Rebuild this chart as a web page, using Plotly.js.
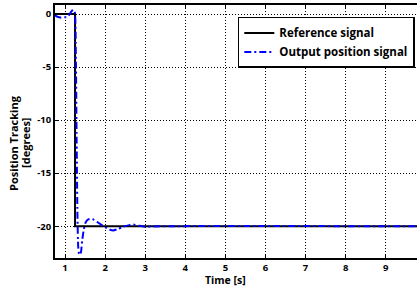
<!DOCTYPE html>
<html>
<head>
<meta charset="utf-8">
<script src="https://cdn.plot.ly/plotly-3.0.1.min.js"></script>
<style>html,body{margin:0;padding:0;background:#fff;}#chart{width:417px;height:288px;}</style>
</head>
<body>
<div id="chart"></div>
<script>
// Reference signal (step)
const refTime = [0.75, 1.25, 1.25, 10];
const refValue = [0, 0, -20, -20];

// Output position signal
const outTime = [0.75, 0.8, 0.85, 0.9, 0.95, 1.0, 1.05, 1.1, 1.15, 1.2, 1.24, 1.27, 1.29, 1.31, 1.33, 1.35, 1.375, 1.4, 1.43, 1.47, 1.52, 1.58, 1.65, 1.72, 1.8, 1.9, 2.0, 2.1, 2.2, 2.3, 2.45, 2.6, 2.7, 2.85, 3.0, 3.2, 3.5, 10];
const outValue = [-0.1, -0.25, -0.3, -0.35, -0.35, -0.3, -0.3, -0.1, 0.2, 0.4, 0.2, -4, -12, -19, -22, -22.6, -22.7, -22.4, -21.3, -20.3, -19.6, -19.35, -19.3, -19.4, -19.6, -19.85, -20.1, -20.3, -20.4, -20.3, -20.05, -19.9, -19.85, -19.95, -20.05, -20.02, -20, -20];

const xTicks = [1, 2, 3, 4, 5, 6, 7, 8, 9];
const xTickText = ['1', '2', '3', '4', '5', '6', '7', '8', '9'];
const yTicks = [0, -5, -10, -15, -20];
const yTickText = ['0', '-5', '-10', '-15', '-20'];
const yTitleLines = ['Position Tracking', '[degrees]'];
const xTitle = 'Time [s]';

const font = '"Open Sans", Lato, sans-serif';
const bold = arr => arr.map(s => '<b>' + s + '</b>');

const traces = [
  {x: refTime, y: refValue, mode: 'lines', name: '<b>Reference signal</b>',
   line: {color: '#000000', width: 2}},
  {x: outTime, y: outValue, mode: 'lines', name: '<b>Output position signal</b>',
   line: {color: '#0000ff', width: 2, dash: '7px,3px,2px,3px', shape: 'spline', smoothing: 0.6}}
];

const layout = {
  width: 417, height: 288,
  margin: {l: 55, r: 0, t: 5, b: 30},
  paper_bgcolor: '#ffffff', plot_bgcolor: '#ffffff',
  font: {family: font, size: 10, color: '#000000'},
  showlegend: true,
  legend: {x: 0.505, y: 0.953, xanchor: 'left', yanchor: 'top',
           bgcolor: '#ffffff', bordercolor: '#000000', borderwidth: 1.5,
           font: {family: font, size: 11.5, color: '#000'}, tracegroupgap: 0, itemwidth: 30},
  xaxis: {range: [0.75, 9.78], tickvals: xTicks, ticktext: bold(xTickText),
          showgrid: true, gridcolor: '#000000', griddash: '1px,2px', gridwidth: 1,
          zeroline: false, showline: true, linecolor: '#000000', linewidth: 2,
          mirror: 'ticks', ticks: 'inside', ticklen: 4, tickcolor: '#000', tickwidth: 1,
          tickfont: {family: font, size: 9.5, color: '#000'}, automargin: false},
  yaxis: {range: [-23.0, 0.85], tickvals: yTicks, ticktext: bold(yTickText),
          showgrid: true, gridcolor: '#000000', griddash: '1px,2px', gridwidth: 1,
          zeroline: false, showline: true, linecolor: '#000000', linewidth: 2,
          ticks: 'inside', ticklen: 4, tickcolor: '#000', tickwidth: 1,
          tickfont: {family: font, size: 9.5, color: '#000'}, automargin: false},
  annotations: [
    {text: '<b>' + yTitleLines[0] + '</b>', xref: 'paper', yref: 'paper', x: -0.113, y: 0.455,
     textangle: -90, showarrow: false, xanchor: 'center', yanchor: 'middle', borderpad: 0,
     font: {family: font, size: 11, color: '#000'}},
    {text: '<b>' + yTitleLines[1] + '</b>', xref: 'paper', yref: 'paper', x: -0.08, y: 0.455,
     textangle: -90, showarrow: false, xanchor: 'center', yanchor: 'middle', borderpad: 0,
     font: {family: font, size: 11, color: '#000'}},
    {text: '<b>' + xTitle + '</b>', xref: 'paper', yref: 'paper', x: 0.47, y: -0.1186,
     showarrow: false, xanchor: 'center', yanchor: 'bottom', borderpad: 0,
     font: {family: font, size: 10.5, color: '#000'}}
  ]
};

Plotly.newPlot('chart', traces, layout, {displayModeBar: false, staticPlot: true});
</script>
</body>
</html>
